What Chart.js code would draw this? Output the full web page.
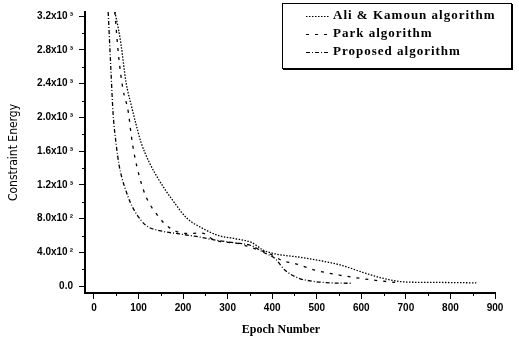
<!DOCTYPE html>
<html>
<head>
  <title>Constraint Energy vs Epoch</title>
  <script src="https://cdn.jsdelivr.net/npm/chart.js"></script>
  <style>
    body { margin: 0; background: #fff; }
    #wrap { width: 519px; height: 343px; position: relative; }
  </style>
</head>
<body>
  <div id="wrap"><canvas id="energyChart"></canvas></div>
  <script>
    const seriesNames = ['Ali & Kamoun algorithm', 'Park algorithm', 'Proposed algorithm'];

    const aliEpoch  = [47, 55, 61, 72, 84, 95, 106, 124, 147, 178, 208, 246, 280, 316, 354, 381, 406, 467, 528, 558, 603, 648, 700, 776, 858];
    const aliEnergy = [3250, 3050, 2860, 2420, 2140, 1910, 1700, 1470, 1250, 1010, 810, 680, 600, 565, 518, 425, 385, 340, 282, 245, 165, 95, 50, 45, 40];

    const parkEpoch  = [47, 55, 65, 77, 84, 90, 102, 117, 140, 169, 208, 242, 271, 325, 361, 393, 422, 451, 497, 528, 553, 596, 632, 677];
    const parkEnergy = [3250, 2750, 2340, 2070, 1780, 1580, 1300, 1060, 860, 695, 625, 630, 545, 505, 445, 390, 305, 270, 190, 155, 130, 95, 70, 45];

    const propEpoch  = [32, 38, 43, 50, 56, 63, 72, 82, 95, 117, 147, 192, 230, 280, 316, 354, 381, 406, 429, 460, 490, 530, 580];
    const propEnergy = [3250, 2580, 2050, 1680, 1450, 1280, 1130, 990, 860, 720, 660, 620, 590, 540, 515, 480, 400, 330, 190, 95, 60, 40, 35];

    const xTicks = [0, 100, 200, 300, 400, 500, 600, 700, 800, 900];
    const yTicks = [0, 400, 800, 1200, 1600, 2000, 2400, 2800, 3200];
    const yTickLabels = ['0.0', '4.0x10\u2009²', '8.0x10\u2009²', '1.2x10\u2009³', '1.6x10\u2009³', '2.0x10\u2009³', '2.4x10\u2009³', '2.8x10\u2009³', '3.2x10\u2009³'];

    const toPoints = (xs, ys) => xs.map((x, i) => ({ x: x, y: ys[i] }));

    const tickFont = { family: 'Liberation Sans', size: 10, weight: 'bold' };

    // short minor ticks halfway between the labelled ones
    const minorTicks = {
      id: 'minorTicks',
      afterDraw(chart) {
        const ctx = chart.ctx;
        const xs = chart.scales.x, ys = chart.scales.y;
        ctx.save();
        ctx.strokeStyle = '#000';
        ctx.lineWidth = 1;
        for (let i = 0; i < xTicks.length - 1; i++) {
          const px = Math.round(xs.getPixelForValue((xTicks[i] + xTicks[i + 1]) / 2)) + 0.5;
          ctx.beginPath();
          ctx.moveTo(px, xs.top);
          ctx.lineTo(px, xs.top + 3);
          ctx.stroke();
        }
        for (let i = 0; i < yTicks.length - 1; i++) {
          const py = Math.round(ys.getPixelForValue((yTicks[i] + yTicks[i + 1]) / 2)) + 0.5;
          ctx.beginPath();
          ctx.moveTo(ys.right, py);
          ctx.lineTo(ys.right - 3, py);
          ctx.stroke();
        }
        ctx.restore();
      }
    };

    // boxed legend in the top right corner
    const boxLegend = {
      id: 'boxLegend',
      afterDraw(chart) {
        const ctx = chart.ctx;
        const left = 282, top = 3, w = 229, h = 65;
        ctx.save();
        ctx.strokeStyle = '#000';
        ctx.lineWidth = 1;
        ctx.strokeRect(left + 0.5, top + 0.5, w, h);
        ctx.lineWidth = 2;
        ctx.beginPath();
        ctx.moveTo(left + w + 1, top + 1);
        ctx.lineTo(left + w + 1, top + h + 1);
        ctx.lineTo(left + 1, top + h + 1);
        ctx.stroke();
        ctx.font = 'bold 13px "Liberation Serif"';
        ctx.letterSpacing = '1px';
        ctx.fillStyle = '#000';
        ctx.textBaseline = 'middle';
        chart.data.datasets.forEach((ds, i) => {
          const y = top + 13 + i * 18;
          ctx.setLineDash(ds.borderDash);
          ctx.lineWidth = 1.2;
          ctx.beginPath();
          ctx.moveTo(306, y + 0.5);
          ctx.lineTo(329, y + 0.5);
          ctx.stroke();
          ctx.setLineDash([]);
          ctx.fillText(ds.label, 333, y);
        });
        ctx.restore();
      }
    };

    const lineStyle = { borderColor: '#000', borderWidth: 1.3, pointRadius: 0, fill: false, cubicInterpolationMode: 'monotone' };

    new Chart(document.getElementById('energyChart'), {
      type: 'line',
      data: {
        datasets: [
          Object.assign({ label: seriesNames[0], data: toPoints(aliEpoch, aliEnergy), borderDash: [1.5, 1.5] }, lineStyle),
          Object.assign({ label: seriesNames[1], data: toPoints(parkEpoch, parkEnergy), borderDash: [3, 6] }, lineStyle),
          Object.assign({ label: seriesNames[2], data: toPoints(propEpoch, propEnergy), borderDash: [4, 2, 1, 2] }, lineStyle)
        ]
      },
      options: {
        responsive: true,
        maintainAspectRatio: false,
        animation: false,
        layout: { padding: { left: 0, right: 24, top: 9, bottom: 0 } },
        plugins: { legend: { display: false }, tooltip: { enabled: false } },
        scales: {
          x: {
            type: 'linear',
            min: -20,
            max: 900,
            afterBuildTicks: s => { s.ticks = xTicks.map(v => ({ value: v })); },
            afterFit: s => { s.height = 50; },
            ticks: { font: tickFont, color: '#000', padding: 3, maxRotation: 0, autoSkip: false },
            grid: { display: true, drawOnChartArea: false, drawTicks: true, tickLength: 6, color: '#000' },
            border: { display: true, color: '#000', width: 2 },
            title: {
              display: true, text: 'Epoch Number\u00a0\u00a0\u00a0\u00a0\u00a0\u00a0', color: '#000',
              font: { family: 'Liberation Serif', size: 12, weight: 'bold' },
              padding: { top: 0, bottom: 6 }
            }
          },
          y: {
            type: 'linear',
            min: -80,
            max: 3250,
            afterBuildTicks: s => { s.ticks = yTicks.map(v => ({ value: v })); },
            afterFit: s => { s.width = 85; },
            ticks: {
              font: tickFont, color: '#000', padding: 6, autoSkip: false,
              callback: (v) => yTickLabels[yTicks.indexOf(v)]
            },
            grid: { display: true, drawOnChartArea: false, drawTicks: true, tickLength: 6, color: '#000' },
            border: { display: true, color: '#000', width: 2 },
            title: {
              display: true, text: 'Constraint Energy', color: '#000',
              font: { family: 'DejaVu Sans Condensed', size: 12 },
              padding: { top: 7, bottom: 0 }
            }
          }
        }
      },
      plugins: [minorTicks, boxLegend]
    });
  </script>
</body>
</html>
